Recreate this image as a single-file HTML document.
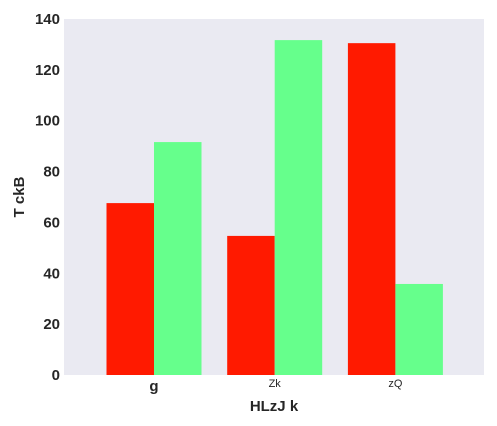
<!DOCTYPE html>
<html><head><meta charset="utf-8"><style>
html,body{margin:0;padding:0;background:#fff;}
svg{display:block;font-family:"Liberation Sans",sans-serif;}
</style></head><body>
<svg id="chart" width="497" height="426">
<rect x="64" y="19" width="420" height="356" fill="#eaeaf2"/>
<g id="yticks"></g><g id="bars"></g><g id="xticks"></g>
<text x="274" y="411" text-anchor="middle" font-size="15" font-weight="bold" fill="#262626">HLzJ k</text>
<text transform="translate(24,197) rotate(-90)" text-anchor="middle" font-size="15" font-weight="bold" fill="#262626">T ckB</text>
</svg>
<script>
const categories=["g","Zk","zQ"];
const seriesRed=[67.6,54.7,130.5];
const seriesGreen=[91.6,131.7,35.8];
const yTicks=[0,20,40,60,80,100,120,140];
const catStyle=[{size:15,weight:"bold",dy:16},{size:11,weight:"normal",dy:12},{size:11,weight:"normal",dy:12}];
const NS="http://www.w3.org/2000/svg";
const y0=375,yTop=19,yMax=140;
function y(v){return y0-(v/yMax)*(y0-yTop);}
function x(i){return 154+i*120.7;}
const bw=47.5;
const gy=document.getElementById('yticks');
yTicks.forEach(t=>{const el=document.createElementNS(NS,'text');
el.setAttribute('x',60);el.setAttribute('y',y(t)+5);el.setAttribute('text-anchor','end');
el.setAttribute('font-size','15');el.setAttribute('font-weight','bold');el.setAttribute('fill','#262626');
el.textContent=t;


gy.appendChild(el);});
const gb=document.getElementById('bars');
function bar(i,v,color,off,name){const r=document.createElementNS(NS,'rect');
r.setAttribute('x',x(i)+off);r.setAttribute('width',bw);r.setAttribute('y',y(v));r.setAttribute('height',y0-y(v));r.setAttribute('fill',color);


gb.appendChild(r);}
categories.forEach((c,i)=>{bar(i,seriesRed[i],'#ff1a00',-bw,'bar-red-'+c);bar(i,seriesGreen[i],'#66ff8c',0,'bar-green-'+c);
const t=document.createElementNS(NS,'text');const s=catStyle[i];
t.setAttribute('x',x(i));t.setAttribute('y',y0+s.dy);t.setAttribute('text-anchor','middle');
t.setAttribute('font-size',s.size);t.setAttribute('font-weight',s.weight);t.setAttribute('fill','#262626');
t.textContent=c;


document.getElementById('xticks').appendChild(t);});
</script>
</body></html>
